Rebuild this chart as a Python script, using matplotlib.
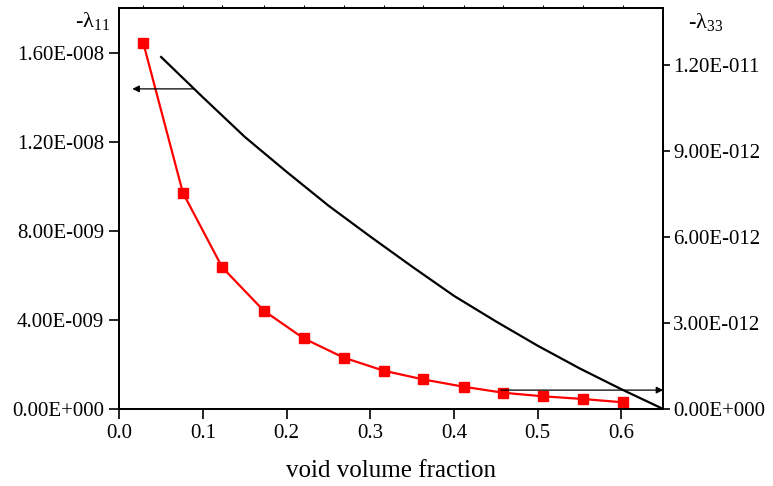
import numpy as np
import matplotlib
matplotlib.use('Agg')
import matplotlib.pyplot as plt
from matplotlib.ticker import FuncFormatter, FixedLocator

plt.rcParams['font.family'] = ['Liberation Serif', 'DejaVu Serif']
plt.rcParams['mathtext.fontset'] = 'custom'
plt.rcParams['mathtext.rm'] = 'Liberation Serif'
plt.rcParams['mathtext.it'] = 'Liberation Serif:italic'

# -lambda_11 (left axis, red squares)
x_red = [0.0287, 0.076, 0.123, 0.1725, 0.2204, 0.268, 0.316, 0.363, 0.4116, 0.459, 0.5066, 0.554, 0.602]
y_red = [16.43e-9, 9.71e-9, 6.36e-9, 4.42e-9, 3.17e-9, 2.31e-9, 1.72e-9, 1.33e-9, 1.0e-9, 0.73e-9, 0.57e-9, 0.45e-9, 0.30e-9]

# -lambda_33 (right axis, black line)
x_blk = [0.05, 0.10, 0.15, 0.20, 0.25, 0.30, 0.35, 0.40, 0.45, 0.50, 0.55, 0.60, 0.65]
y_blk = [12.29e-12, 10.88e-12, 9.50e-12, 8.28e-12, 7.10e-12, 6.02e-12, 4.97e-12, 3.95e-12,
         3.06e-12, 2.21e-12, 1.42e-12, 0.69e-12, 0.0]

x_ticks = [0.0, 0.1, 0.2, 0.3, 0.4, 0.5, 0.6]
left_ticks = [0.0, 4e-9, 8e-9, 1.2e-8, 1.6e-8]
right_ticks = [0.0, 3e-12, 6e-12, 9e-12, 1.2e-11]


def sci(v, pos=None):
    # origin-style labels like 1.60E-008
    if v == 0:
        return '0.00E+000'
    e = int(np.floor(np.log10(abs(v))))
    m = v / 10 ** e
    if round(m, 2) >= 10:
        m /= 10
        e += 1
    sign = '-' if e < 0 else '+'
    return '%.2fE%s%03d' % (m, sign, abs(e))


fig = plt.figure(figsize=(7.73, 4.86), dpi=100)
ax = fig.add_axes([0.1543, 0.1584, 0.7037, 0.8251])
ax2 = ax.twinx()

ax2.plot(x_blk, y_blk, color='black', lw=1.6, zorder=2)
ax.plot(x_red, y_red, color='red', lw=1.6, marker='s', ms=6.5, mfc='red', mec='red', zorder=3)

ax.set_xlim(0, 0.65)
ax.set_ylim(0, 1.8e-8)
ax2.set_ylim(0, 1.4e-11)

ax.set_xticks(x_ticks)
ax.set_xticklabels(['%.1f' % t for t in x_ticks])
ax.set_yticks(left_ticks)
ax.yaxis.set_major_formatter(FuncFormatter(sci))
ax2.set_yticks(right_ticks)
ax2.yaxis.set_major_formatter(FuncFormatter(sci))

# tiny ticks on the top spine
ax.xaxis.set_minor_locator(FixedLocator(x_red))
ax.tick_params(axis='x', which='minor', bottom=False, top=True, direction='out', length=2, width=0.8)

ax.tick_params(axis='both', which='major', direction='out', length=7, width=1.2, labelsize=15, pad=4)
ax2.tick_params(axis='y', which='major', direction='out', length=5, width=1.2, labelsize=15, pad=2)

for a in (ax, ax2):
    for s in a.spines.values():
        s.set_linewidth(1.3)

ax.set_xlabel('void volume fraction', fontsize=18, labelpad=12)

fig.text(0.097, 0.944, r'-λ$_{11}$', fontsize=16, va='baseline')
fig.text(0.89, 0.942, r'-λ$_{33}$', fontsize=16, va='baseline')

arrow = dict(arrowstyle='-|>', color='black', lw=0.9, mutation_scale=10, shrinkA=0, shrinkB=0)
ax.annotate('', xy=(0.0156, 14.37e-9), xytext=(0.0886, 14.37e-9), arrowprops=arrow)
ax2.annotate('', xy=(0.65, 0.66e-12), xytext=(0.456, 0.66e-12), arrowprops=arrow)

fig.savefig('out.png', dpi=100)
